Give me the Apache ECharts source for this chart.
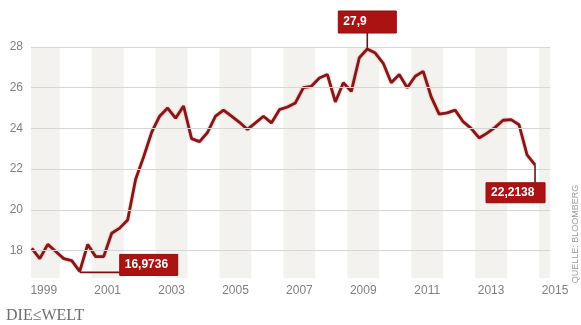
<!DOCTYPE html>
<html>
<head>
<meta charset="utf-8">
<script src="https://cdn.jsdelivr.net/npm/echarts@6/dist/echarts.min.js"></script>
<style>html,body{margin:0;padding:0;background:#fff}#c{width:581px;height:325px}</style>
</head>
<body>
<div id="c"></div>
<script>
// Quarterly data, 1999 Q1 – 2014 Q4
const startYear = 1999;
const values = [
  18.1, 17.6, 18.3, 17.95, 17.6, 17.5, 16.9736, 18.3,
  17.7, 17.7, 18.85, 19.1, 19.5, 21.5, 22.6, 23.8,
  24.6, 25.0, 24.5, 25.1, 23.5, 23.35, 23.8, 24.6,
  24.9, 24.6, 24.3, 23.95, 24.27, 24.6, 24.27, 24.92,
  25.05, 25.25, 26.0, 26.07, 26.48, 26.65, 25.3, 26.24,
  25.82, 27.47, 27.9, 27.7, 27.2, 26.24, 26.65, 26.0,
  26.56, 26.8, 25.55, 24.7, 24.76, 24.9, 24.33, 24.0,
  23.53, 23.77, 24.05, 24.4, 24.43, 24.18, 22.7, 22.2138
];
const quarters = values.map((v, i) => (startYear + Math.floor(i / 4)) + 'Q' + (i % 4 + 1));
const yTicks = [18, 20, 22, 24, 26, 28];
const xLabelYears = [1999, 2001, 2003, 2005, 2007, 2009, 2011, 2013, 2015];
const bandYears = [1999, 2001, 2003, 2005, 2007, 2009, 2011, 2013, 2015];
const annotated = [
  { q: '2000Q3', pos: 'right' },
  { q: '2009Q3', pos: 'top' },
  { q: '2014Q4', pos: 'bottom' }
];
const sourceText = 'QUELLE: BLOOMBERG';
const logoText = 'DIE\u2264WELT';

const X_MIN = 1999.1, X_MAX = 2015.5, GRID_END = 2015.35;
const Y_MIN = 16.65, Y_MAX = 28;

function qToNum(q) {
  const y = parseInt(q.slice(0, 4), 10), n = parseInt(q.slice(5), 10);
  return y + (n - 0.5) / 4;
}
const lineData = quarters.map((q, i) => [qToNum(q), values[i]]);

const option = {
  animation: false,
  backgroundColor: '#ffffff',
  grid: { left: 31, top: 47, width: 524, height: 231 },
  xAxis: {
    type: 'value', min: X_MIN, max: X_MAX,
    axisLine: { show: false }, axisTick: { show: false }, splitLine: { show: false },
    axisLabel: {
      customValues: xLabelYears.map(y => y + 0.5),
      formatter: v => String(Math.floor(v)),
      color: '#808080', fontSize: 12, margin: 7, fontFamily: 'Liberation Sans, Arial, sans-serif'
    }
  },
  yAxis: {
    type: 'value', min: Y_MIN, max: Y_MAX,
    axisLine: { show: false }, axisTick: { show: false }, splitLine: { show: false },
    axisLabel: {
      customValues: yTicks,
      color: '#808080', fontSize: 12, margin: 8, fontFamily: 'Liberation Sans, Arial, sans-serif'
    }
  },
  series: [
    {
      type: 'line', data: [], z: 1, silent: true,
      markArea: {
        silent: true,
        itemStyle: { color: '#f4f2ef' },
        data: bandYears.map(y => [{ xAxis: Math.max(y, X_MIN) }, { xAxis: Math.min(y + 1, GRID_END) }])
      },
      markLine: {
        silent: true, symbol: 'none', label: { show: false },
        lineStyle: { color: '#d6d6d6', width: 1, type: 'solid' },
        data: yTicks.map(v => [{ coord: [X_MIN, v] }, { coord: [GRID_END, v] }])
      }
    },
    {
      type: 'line', data: lineData, z: 3, showSymbol: false, symbol: 'none',
      lineStyle: { color: '#841818', width: 2.8, shadowColor: 'rgba(225,50,50,0.55)', shadowBlur: 2 }
    }
  ]
};

const chart = echarts.init(document.getElementById('c'));
chart.setOption(option);

const fmt = v => String(v).replace('.', ',');
const graphics = [];
const boxColor = '#ab1313', leadColor = '#6e1414';
const txtStyle = { fill: '#ffffff', font: 'bold 12px "Liberation Sans", Arial, sans-serif' };

annotated.forEach(a => {
  const idx = quarters.indexOf(a.q);
  const p = chart.convertToPixel({ seriesIndex: 1 }, lineData[idx]);
  const label = fmt(values[idx]);
  let bx, by, bw = 58, bh = 21, lx1, ly1, lx2, ly2;
  if (a.pos === 'right') {
    lx1 = p[0]; ly1 = p[1] + 1; lx2 = p[0] + 40; ly2 = p[1] + 1;
    bx = p[0] + 40; by = p[1] - 17;
  } else if (a.pos === 'top') {
    bx = p[0] - 29; by = 11; bh = 22;
    lx1 = p[0]; ly1 = by + bh; lx2 = p[0]; ly2 = p[1];
  } else {
    bx = p[0] - 49; by = p[1] + 18; bw = 59; bh = 20;
    lx1 = p[0]; ly1 = p[1]; lx2 = p[0]; ly2 = by;
  }
  graphics.push({ type: 'line', z: 10, shape: { x1: lx1, y1: ly1, x2: lx2, y2: ly2 }, style: { stroke: leadColor, lineWidth: 1.6 } });
  graphics.push({ type: 'rect', z: 10, shape: { x: bx, y: by, width: bw, height: bh }, style: { fill: boxColor, stroke: '#8e0c0c', lineWidth: 1 } });
  graphics.push({ type: 'text', z: 11, x: bx + 5, y: by + bh / 2, style: Object.assign({ text: label, verticalAlign: 'middle', align: 'left' }, txtStyle) });
});

graphics.push({
  type: 'text', x: 576, y: 234, rotation: Math.PI / 2,
  style: { text: sourceText, fill: '#9a9a9a', font: '9px "Liberation Sans", Arial, sans-serif', align: 'center', verticalAlign: 'middle' }
});
graphics.push({
  type: 'text', x: 6, y: 316,
  style: { text: logoText, fill: '#6e6e6e', font: '16px "Liberation Serif", "DejaVu Serif", serif', align: 'left', verticalAlign: 'middle' }
});

chart.setOption({ graphic: graphics });
</script>
</body>
</html>
